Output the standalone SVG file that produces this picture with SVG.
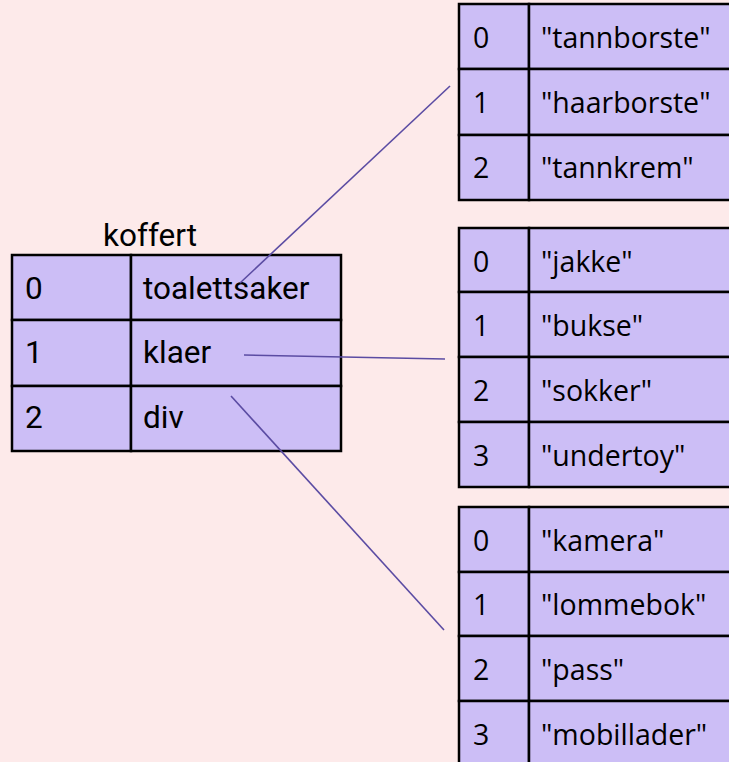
<svg xmlns="http://www.w3.org/2000/svg" width="729" height="762" viewBox="0 0 729 762">
<style>
.cell{fill:#ccbef6;stroke:#000;stroke-width:2.5}
.l{font-family:Roboto,"Liberation Sans",sans-serif;font-size:31.5px;fill:#000}
.r{font-family:"Open Sans","Noto Sans",sans-serif;font-size:28.5px;fill:#000}
.con{stroke:#5b4ca3;stroke-width:1.6;fill:none}
</style>
<rect width="729" height="762" fill="#fdeaea"/>
<g id="koffert">
<text class="l" x="150" y="246" text-anchor="middle">koffert</text>
<rect class="cell" x="12" y="255" width="119" height="65"/><rect class="cell" x="131" y="255" width="210" height="65"/>
<rect class="cell" x="12" y="320" width="119" height="66"/><rect class="cell" x="131" y="320" width="210" height="66"/>
<rect class="cell" x="12" y="386" width="119" height="65"/><rect class="cell" x="131" y="386" width="210" height="65"/>
<text class="l" x="25" y="299">0</text><text class="l" x="143" y="299">toalettsaker</text>
<text class="l" x="25" y="363">1</text><text class="l" x="143" y="363">klaer</text>
<text class="l" x="25" y="428">2</text><text class="l" x="143" y="428">div</text>
</g>
<g id="toalettsaker">
<rect class="cell" x="459" y="4" width="70" height="65"/><rect class="cell" x="529" y="4" width="215" height="65"/>
<rect class="cell" x="459" y="69" width="70" height="66"/><rect class="cell" x="529" y="69" width="215" height="66"/>
<rect class="cell" x="459" y="135" width="70" height="65"/><rect class="cell" x="529" y="135" width="215" height="65"/>
<text class="r" x="473" y="48">0</text><text class="r" x="541" y="48">"tannborste"</text>
<text class="r" x="473" y="113">1</text><text class="r" x="541" y="113">"haarborste"</text>
<text class="r" x="473" y="178">2</text><text class="r" x="541" y="178">"tannkrem"</text>
</g>
<g id="klaer">
<rect class="cell" x="459" y="228" width="70" height="64"/><rect class="cell" x="529" y="228" width="215" height="64"/>
<rect class="cell" x="459" y="292" width="70" height="65"/><rect class="cell" x="529" y="292" width="215" height="65"/>
<rect class="cell" x="459" y="357" width="70" height="65"/><rect class="cell" x="529" y="357" width="215" height="65"/>
<rect class="cell" x="459" y="422" width="70" height="65"/><rect class="cell" x="529" y="422" width="215" height="65"/>
<text class="r" x="473" y="272">0</text><text class="r" x="541" y="272">"jakke"</text>
<text class="r" x="473" y="336">1</text><text class="r" x="541" y="336">"bukse"</text>
<text class="r" x="473" y="401">2</text><text class="r" x="541" y="401">"sokker"</text>
<text class="r" x="473" y="466">3</text><text class="r" x="541" y="466">"undertoy"</text>
</g>
<g id="div">
<rect class="cell" x="459" y="507" width="70" height="65"/><rect class="cell" x="529" y="507" width="215" height="65"/>
<rect class="cell" x="459" y="572" width="70" height="64"/><rect class="cell" x="529" y="572" width="215" height="64"/>
<rect class="cell" x="459" y="636" width="70" height="65"/><rect class="cell" x="529" y="636" width="215" height="65"/>
<rect class="cell" x="459" y="701" width="70" height="65"/><rect class="cell" x="529" y="701" width="215" height="65"/>
<text class="r" x="473" y="551">0</text><text class="r" x="541" y="551">"kamera"</text>
<text class="r" x="473" y="615">1</text><text class="r" x="541" y="615">"lommebok"</text>
<text class="r" x="473" y="680">2</text><text class="r" x="541" y="680">"pass"</text>
<text class="r" x="473" y="745">3</text><text class="r" x="541" y="745">"mobillader"</text>
</g>
<g id="connectors">
<line class="con" x1="240" y1="283" x2="450" y2="86"/>
<line class="con" x1="244" y1="355" x2="445" y2="359"/>
<line class="con" x1="231" y1="396" x2="444" y2="630"/>
</g>
</svg>
